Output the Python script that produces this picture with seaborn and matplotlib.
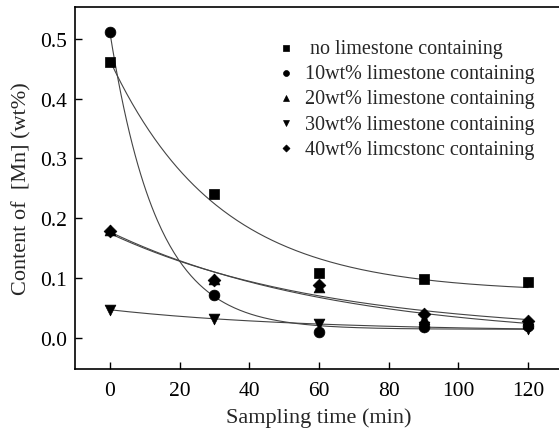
import numpy as np
import pandas as pd
import matplotlib
matplotlib.use("Agg")
import matplotlib.pyplot as plt
import seaborn as sns

time_min = [0, 30, 60, 90, 120]
series_names = ["no limestone containing",
                "10wt% limestone containing",
                "20wt% limestone containing",
                "30wt% limestone containing",
                "40wt% limcstonc containing"]
no_limestone = [0.461, 0.240, 0.108, 0.099, 0.094]
limestone_10 = [0.511, 0.071, 0.010, 0.018, 0.020]
limestone_20 = [0.180, 0.098, 0.085, 0.032, 0.025]
limestone_30 = [0.047, 0.032, 0.023, 0.018, 0.015]
limestone_40 = [0.178, 0.096, 0.088, 0.040, 0.029]
all_values = [no_limestone, limestone_10, limestone_20, limestone_30, limestone_40]
markers = ["s", "o", "^", "v", "D"]
marker_sizes = [50, 60, 60, 60, 42]

sns.set_style("ticks")
plt.rcParams['font.family'] = ['Liberation Serif', 'DejaVu Serif']
plt.rcParams['mathtext.default'] = 'regular'

fig = plt.figure(figsize=(5.59, 4.31), dpi=100)
ax = fig.add_axes([75/559, 61/431, 488/559, 362/431])


def exp_fit(x, y):
    x = np.asarray(x, float)
    y = np.asarray(y, float)
    best = None
    for t in np.logspace(0.3, 4, 3000):
        M = np.column_stack([np.ones_like(x), np.exp(-x / t)])
        coef, *_ = np.linalg.lstsq(M, y, rcond=None)
        r = np.sum((M @ coef - y) ** 2)
        if best is None or r < best[0]:
            best = (r, coef, t)
    return best[1], best[2]


xs = np.linspace(0, 120, 300)
rows = []
for name, vals in zip(series_names, all_values):
    (y0, A), t = exp_fit(time_min, vals)
    ys = y0 + A * np.exp(-xs / t)
    fit_df = pd.DataFrame({"x": xs, "y": ys})
    sns.lineplot(data=fit_df, x="x", y="y", ax=ax, color="#444444", lw=0.8,
                 legend=False, sort=False)
    for tm, v in zip(time_min, vals):
        rows.append({"time": tm, "value": v, "series": name})

df = pd.DataFrame(rows)
handles = []
for name, m, s in zip(series_names, markers, marker_sizes):
    sub = df[df["series"] == name]
    h = ax.scatter(sub["time"], sub["value"], marker=m, s=s, color="black",
                   edgecolors="black", linewidths=0.5, zorder=3, label=name)
    handles.append(h)

labels = [" " + series_names[0]] + series_names[1:]
leg = ax.legend(handles, labels, loc="upper left",
                bbox_to_anchor=(274/559, 1 - 40/431), bbox_transform=fig.transFigure,
                frameon=False, fontsize=14.5, handletextpad=0.35, labelspacing=0.3,
                borderaxespad=0, borderpad=0, markerscale=0.55, handlelength=1.2)

ax.set_xlim(-10, 130)
ax.set_ylim(-0.052, 0.553)
ax.set_xticks([0, 20, 40, 60, 80, 100, 120])
ax.set_yticks([0.0, 0.1, 0.2, 0.3, 0.4, 0.5])
ax.yaxis.set_major_formatter(matplotlib.ticker.FormatStrFormatter('%.1f'))
ax.tick_params(direction="in", length=5, width=1, labelsize=15.5, colors="black", pad=6)
ax.tick_params(axis="x", pad=9)
for sp in ax.spines.values():
    sp.set_visible(True)
    sp.set_linewidth(1.2)
    sp.set_color("black")
ax.set_xlabel("Sampling time (min)", fontsize=16, labelpad=5)
ax.set_ylabel("Content of  [Mn] (wt%)", fontsize=16, labelpad=6)

fig.savefig("out.png", dpi=100)
